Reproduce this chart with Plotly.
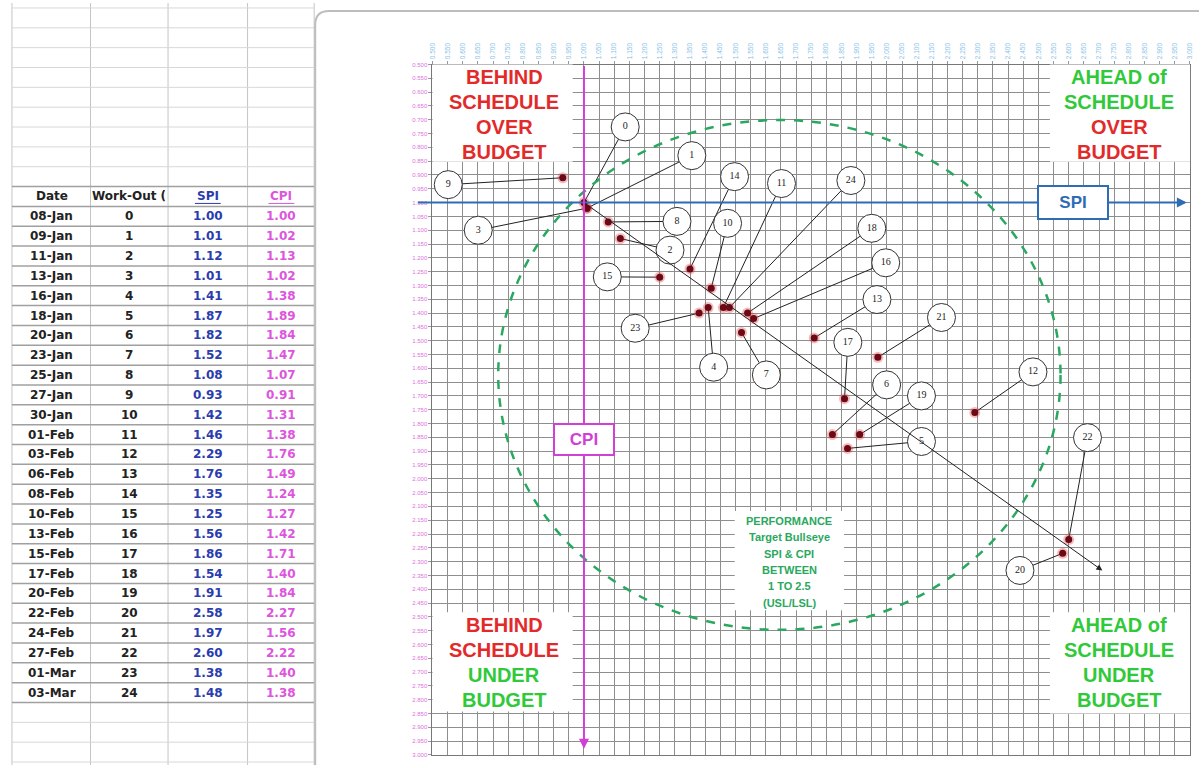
import plotly.graph_objects as go

# ---- schedule / cost performance log ----
dates = ["08-Jan", "09-Jan", "11-Jan", "13-Jan", "16-Jan", "18-Jan", "20-Jan", "23-Jan",
         "25-Jan", "27-Jan", "30-Jan", "01-Feb", "03-Feb", "06-Feb", "08-Feb", "10-Feb",
         "13-Feb", "15-Feb", "17-Feb", "20-Feb", "22-Feb", "24-Feb", "27-Feb", "01-Mar", "03-Mar"]
workout = list(range(25))
spi = [1.00, 1.01, 1.12, 1.01, 1.41, 1.87, 1.82, 1.52, 1.08, 0.93, 1.42, 1.46, 2.29,
       1.76, 1.35, 1.25, 1.56, 1.86, 1.54, 1.91, 2.58, 1.97, 2.60, 1.38, 1.48]
cpi = [1.00, 1.02, 1.13, 1.02, 1.38, 1.89, 1.84, 1.47, 1.07, 0.91, 1.31, 1.38, 1.76,
       1.49, 1.24, 1.27, 1.42, 1.71, 1.40, 1.84, 2.27, 1.56, 2.22, 1.40, 1.38]

# axis scale (both indices)
axis_min, axis_max, axis_step = 0.5, 3.0, 0.05

# callout bubble placement (SPI, CPI units), keyed by work-out number
callout_pos = {
    0: (1.136, 0.726), 1: (1.356, 0.830), 2: (1.284, 1.172), 3: (0.651, 1.100),
    4: (1.428, 1.596), 5: (2.114, 1.865), 6: (1.999, 1.660), 7: (1.602, 1.624),
    8: (1.307, 1.068), 9: (0.552, 0.935), 10: (1.474, 1.075), 11: (1.652, 0.931),
    12: (2.482, 1.613), 13: (1.967, 1.351), 14: (1.497, 0.906), 15: (1.077, 1.269),
    16: (1.996, 1.218), 17: (1.871, 1.506), 18: (1.950, 1.093), 19: (2.114, 1.700),
    20: (2.439, 2.332), 21: (2.180, 1.416), 22: (2.662, 1.851), 23: (1.169, 1.455),
    24: (1.881, 0.920),
}

W, H = 1202, 768


def px(x):
    return x / W


def py(y):
    return 1 - y / H


RED = "#e32a2a"
GREEN = "#2fc93a"
TEAL = "#2aa860"
BLUE = "#2e6db4"
MAGENTA = "#d23fd6"
FONT = "Liberation Sans"


def label(x, y, text, size, color, family=FONT, **kw):
    """Centered paper-space text."""
    d = dict(xref="paper", yref="paper", x=x, y=y, text=text, showarrow=False,
             xanchor="center", yanchor="middle",
             font=dict(family=family, size=size, color=color))
    d.update(kw)
    return d


fig = go.Figure()

# leader lines from each point to its callout
lx, ly = [], []
for i in workout:
    cx, cy = callout_pos[i]
    lx += [spi[i], cx, None]
    ly += [cpi[i], cy, None]
fig.add_trace(go.Scatter(x=lx, y=ly, mode="lines", line=dict(color="#222222", width=1),
                         hoverinfo="skip"))

# data points with a soft red glow
fig.add_trace(go.Scatter(x=spi, y=cpi, mode="markers",
                         marker=dict(size=11, color="rgba(225,60,60,0.35)"), hoverinfo="skip"))
fig.add_trace(go.Scatter(x=spi, y=cpi, mode="markers",
                         marker=dict(size=7, color="#6b0a16"),
                         text=dates, customdata=workout,
                         hovertemplate="#%{customdata} %{text}<br>SPI %{x:.2f}<br>CPI %{y:.2f}<extra></extra>"))

# numbered callout bubbles
fig.add_trace(go.Scatter(
    x=[callout_pos[i][0] for i in workout], y=[callout_pos[i][1] for i in workout],
    mode="markers+text", text=[str(i) for i in workout], textposition="middle center",
    textfont=dict(family="Liberation Serif", size=10, color="#222222"),
    marker=dict(size=28, color="white", line=dict(color="#333333", width=1)),
    hoverinfo="skip"))

shapes = []
annotations = []

# target bullseye ring
shapes.append(dict(type="circle", xref="x", yref="y", x0=0.717, x1=2.573, y0=0.701, y1=2.547,
                   line=dict(color=TEAL, width=2.5, dash="dash"), layer="above"))

# white panels for the quadrant captions
for x0, x1, y0, y1 in [(431, 572, 62, 160), (1052, 1193, 62, 160),
                       (431, 572, 614, 714), (1052, 1193, 614, 716), (735, 845, 512, 612)]:
    shapes.append(dict(type="rect", xref="paper", yref="paper", x0=px(x0), x1=px(x1),
                       y0=py(y1), y1=py(y0), fillcolor="white", line=dict(width=0), layer="above"))

quadrants = [
    (503, 75, [("BEHIND", RED), ("SCHEDULE", RED), ("OVER", RED), ("BUDGET", RED)]),
    (1122, 75, [("AHEAD of", GREEN), ("SCHEDULE", GREEN), ("OVER", RED), ("BUDGET", RED)]),
    (503, 627, [("BEHIND", RED), ("SCHEDULE", RED), ("UNDER", GREEN), ("BUDGET", GREEN)]),
    (1122, 627, [("AHEAD of", GREEN), ("SCHEDULE", GREEN), ("UNDER", GREEN), ("BUDGET", GREEN)]),
]
for cx, top, lines in quadrants:
    for k, (txt, col) in enumerate(lines):
        annotations.append(label(px(cx), py(top + 25 * k), f"<b>{txt}</b>", 20, col))

for k, txt in enumerate(["PERFORMANCE", "Target Bullseye", "SPI & CPI", "BETWEEN", "1 TO 2.5", "(USL/LSL)"]):
    annotations.append(label(px(790), py(522 + 16.5 * k), f"<b>{txt}</b>", 11, TEAL))

# SPI = 1 and CPI = 1 reference arrows
annotations.append(dict(x=2.990, y=1.0, ax=0.4475, ay=1.0, xref="x", yref="y", axref="x", ayref="y",
                        text="", showarrow=True, arrowhead=2, arrowsize=1, arrowwidth=2,
                        arrowcolor=BLUE))
annotations.append(dict(x=1.0, y=2.978, ax=1.0, ay=0.5, xref="x", yref="y", axref="x", ayref="y",
                        text="", showarrow=True, arrowhead=2, arrowsize=1, arrowwidth=2,
                        arrowcolor=MAGENTA))
# overall trend arrow
annotations.append(dict(x=2.711, y=2.332, ax=1.0, ay=1.0, xref="x", yref="y", axref="x", ayref="y",
                        text="", showarrow=True, arrowhead=2, arrowsize=1.2, arrowwidth=1,
                        arrowcolor="#222222"))

annotations.append(dict(x=2.613, y=1.0, xref="x", yref="y", text="<b>SPI</b>", showarrow=False,
                        xanchor="center", yanchor="middle",
                        font=dict(family=FONT, size=17, color=BLUE), bgcolor="white",
                        bordercolor=BLUE, borderwidth=2, borderpad=6, width=56))
annotations.append(dict(x=1.0, y=1.858, xref="x", yref="y", text="<b>CPI</b>", showarrow=False,
                        xanchor="center", yanchor="middle",
                        font=dict(family=FONT, size=17, color=MAGENTA), bgcolor="white",
                        bordercolor=MAGENTA, borderwidth=2, borderpad=5, width=48))

# ---- spreadsheet on the left ----
col_edges = [8, 87, 165, 245, 312]
for xe in col_edges:
    shapes.append(dict(type="line", xref="paper", yref="paper", x0=px(xe), x1=px(xe),
                       y0=0, y1=1, line=dict(color="#c4c4c4", width=1)))
for k in range(39):
    yl = 5 + 20 * k
    dark = 185 <= yl <= 705
    shapes.append(dict(type="line", xref="paper", yref="paper", x0=px(8), x1=px(312),
                       y0=py(yl), y1=py(yl),
                       line=dict(color="#a0a0a0" if dark else "#d8d8d8", width=1.5 if dark else 1)))

col_cx = [48, 126, 205, 279]
headers = [("<b>Date</b>", "#222222"), ("<b>Work-Out (</b>", "#222222"),
           ("<b>SPI</b>", "#2a3cae"), ("<b>CPI</b>", "#dd55dd")]
for (txt, col), cx in zip(headers, col_cx):
    annotations.append(label(px(cx), py(195), txt, 12, col, family="DejaVu Sans"))
for cx, col in [(205, "#2a3cae"), (279, "#dd55dd")]:
    shapes.append(dict(type="line", xref="paper", yref="paper", x0=px(cx - 13), x1=px(cx + 13),
                       y0=py(202), y1=py(202), line=dict(color=col, width=1)))

for r in range(len(dates)):
    yc = py(215 + 20 * r)
    row = [(dates[r], "#222222"), (str(workout[r]), "#222222"),
           (f"{spi[r]:.2f}", "#2a3cae"), (f"{cpi[r]:.2f}", "#dd55dd")]
    for (txt, col), cx in zip(row, col_cx):
        annotations.append(label(px(cx), yc, f"<b>{txt}</b>", 12, col, family="DejaVu Sans"))

# chart panel outline with rounded corner
shapes.append(dict(type="path", xref="paper", yref="paper",
                   path=f"M {px(313)},{py(768)} L {px(313)},{py(22)} "
                        f"Q {px(313)},{py(8)} {px(327)},{py(8)} L {px(1202)},{py(8)}",
                   line=dict(color="#bdbdbd", width=2)))

fig.update_layout(
    width=W, height=H, margin=dict(l=0, r=0, t=0, b=0),
    paper_bgcolor="white", plot_bgcolor="white", showlegend=False,
    shapes=shapes, annotations=annotations,
    xaxis=dict(domain=[px(431), px(1193)], range=[axis_min, axis_max + 0.0005], side="top",
               tick0=axis_min, dtick=axis_step, tickformat=".3f", tickangle=-90,
               tickfont=dict(family=FONT, size=6.5, color="#86bfe9"),
               showgrid=True, gridcolor="#8e8e8e", gridwidth=1, zeroline=False,
               showline=True, linecolor="#777777", mirror=True,
               ticks="outside", ticklen=3, tickcolor="#999999"),
    yaxis=dict(domain=[py(758), py(62)], range=[axis_max + 0.0005, axis_min],
               tick0=axis_min, dtick=axis_step, tickformat=".3f",
               tickfont=dict(family=FONT, size=6, color="#e070e0"),
               showgrid=True, gridcolor="#8e8e8e", gridwidth=1, zeroline=False,
               showline=True, linecolor="#777777", mirror=True,
               ticks="outside", ticklen=3, tickcolor="#999999"),
)

fig.write_html("out.html")
